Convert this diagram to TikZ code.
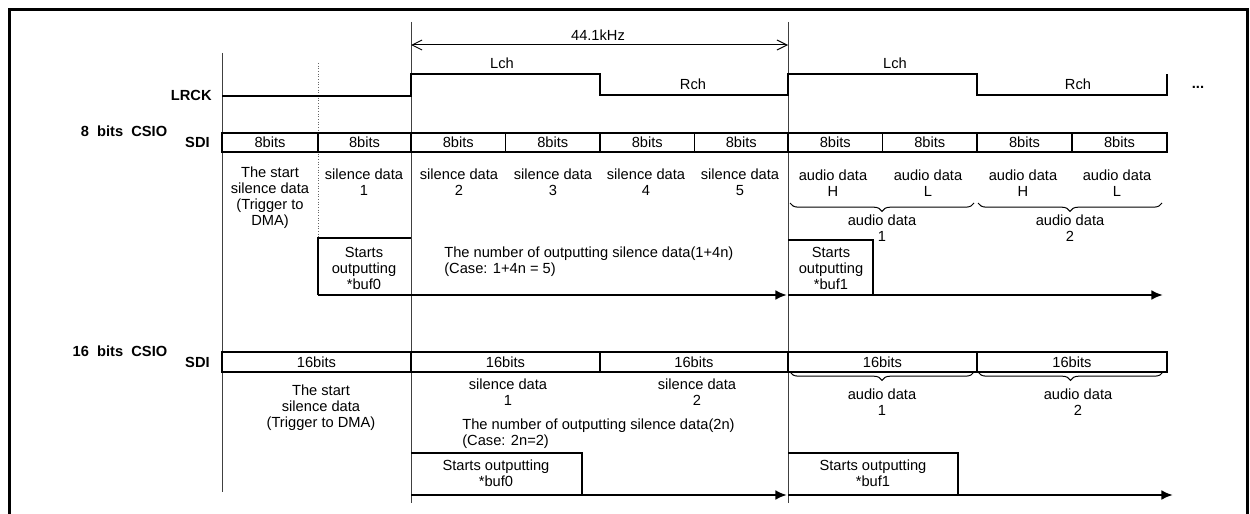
\documentclass[tikz,border=0pt]{standalone}
\usepackage{fontspec}
\setmainfont{Liberation Sans}
\usetikzlibrary{arrows.meta,decorations.pathreplacing}
\begin{document}
\begin{tikzpicture}[x=0.6pt,y=-0.6pt,
  txt/.style={font=\fontsize{8.8}{9.6}\selectfont, align=center, inner sep=0pt},
  lbl/.style={font=\fontsize{8.8}{9.6}\selectfont\bfseries, inner sep=0pt},
  guide/.style={line width=0.6pt, black!75},
  dots/.style={line width=0.6pt, black!60, densely dotted},
  sig/.style={line width=1.2pt},
  bus/.style={line width=1.1pt},
  thinbox/.style={line width=0.7pt},
  flow/.style={line width=1.6pt, -{Latex[length=7pt,width=6pt]}},
  dimarrow/.style={line width=0.6pt, {Straight Barb[length=6pt,width=6pt]}-{Straight Barb[length=6pt,width=6pt]}},
  brc/.style={decorate, decoration={brace,mirror,amplitude=5pt}, line width=0.6pt},
]
\useasboundingbox (0,0) rectangle (1250,514);
% frame
\draw[line width=1.8pt] (9,520) -- (9,10) -- (1247,10) -- (1247,520);

% guide lines
\draw[guide] (222,53) -- (222,492);
\draw[dots] (318,63) -- (318,238);
\draw[guide] (411,22) -- (411,503);
\draw[guide] (788,22) -- (788,503);

% 44.1 kHz
\coordinate (fa) at (411,45);
\coordinate (fb) at (788,45);
\draw[dimarrow] (fa) -- (fb);
\node[txt] (freq) at (598,35) {44.1kHz};

% LRCK
\node[lbl, anchor=east] (lrck) at (212,95) {LRCK};
\draw[sig] (222,96) -- (411,96) -- (411,74) -- (600,74) -- (600,95) -- (788,95)
  -- (788,74) -- (977,74) -- (977,95) -- (1167,95) -- (1167,74);
\node[txt] (lch1) at (502,63) {Lch};
\node[txt] (rch1) at (693,84) {Rch};
\node[txt] (lch2) at (895,63) {Lch};
\node[txt] (rch2) at (1078,84) {Rch};
\node[lbl] (more) at (1198,87) {...};

% 8 bits CSIO
\node[lbl] (csio8) at (124,131) {8\ \ bits\ \ CSIO};
\node[lbl, anchor=east] (sdi8) at (210,142) {SDI};
\draw[bus] (222,133) rectangle (1167,152);
\foreach \x in {318,411,505.5,600,694.5,788,882.5,977,1072}
  \draw[bus] (\x,133) -- (\x,152);
\foreach \a/\b [count=\i] in {222/318,318/411,411/505.5,505.5/600,600/694.5,694.5/788,788/882.5,882.5/977,977/1072,1072/1167}
  \node[txt] (e\i) at ({(\a+\b)/2},142.5) {8bits};

\node[txt] (start8) at (270,198) {The start\\silence data\\(Trigger to\\DMA)};
\node[txt] (s1) at (364,182) {silence data\\1};
\node[txt] (s2) at (459,182) {silence data\\2};
\node[txt] (s3) at (553,182) {silence data\\3};
\node[txt] (s4) at (646,182) {silence data\\4};
\node[txt] (s5) at (740,182) {silence data\\5};
\node[txt] (a1h) at (833,183) {audio data\\H};
\node[txt] (a1l) at (928,183) {audio data\\L};
\node[txt] (a2h) at (1023,183) {audio data\\H};
\node[txt] (a2l) at (1117,183) {audio data\\L};

\draw[brc] (790,203) -- (974,203);
\draw[brc] (978,203) -- (1162,203);
\node[txt] (ad81) at (882,228) {audio data\\1};
\node[txt] (ad82) at (1070,228) {audio data\\2};

\draw[thinbox] (318,295) -- (318,238) -- (411,238);
\node[txt] (buf08) at (364,268) {Starts\\outputting\\*buf0};
\draw[thinbox] (788,240) -- (873,240) -- (873,295);
\node[txt] (buf18) at (831,268) {Starts\\outputting\\*buf1};
\node[txt, align=left, anchor=west] (num8) at (444,262) {The number of outputting silence data(1+4n)\\(Case: 1+4n = 5)};

\coordinate (p8a) at (318,295);
\coordinate (p8b) at (787,295);
\coordinate (p8c) at (788,295);
\coordinate (p8d) at (1163,295);
\draw[flow] (p8a) -- (p8b);
\draw[flow] (p8c) -- (p8d);

% 16 bits CSIO
\node[lbl] (csio16) at (120,351) {16\ \ bits\ \ CSIO};
\node[lbl, anchor=east] (sdi16) at (210,362) {SDI};
\draw[bus] (222,352) rectangle (1167,372);
\foreach \x in {411,600,788,977}
  \draw[bus] (\x,352) -- (\x,372);
\foreach \a/\b [count=\i] in {222/411,411/600,600/788,788/977,977/1167}
  \node[txt] (w\i) at ({(\a+\b)/2},362) {16bits};

\node[txt] (start16) at (321,408) {The start\\silence data\\(Trigger to DMA)};
\node[txt] (sd1) at (508,392) {silence data\\1};
\node[txt] (sd2) at (697,392) {silence data\\2};
\draw[brc] (790,372) -- (974,372);
\draw[brc] (978,372) -- (1163,372);
\node[txt] (ad161) at (882,402) {audio data\\1};
\node[txt] (ad162) at (1078,402) {audio data\\2};
\node[txt, align=left, anchor=west] (num16) at (462,434) {The number of outputting silence data(2n)\\(Case: 2n=2)};

\draw[thinbox] (411,453) -- (582,453) -- (582,495);
\node[txt] (buf016) at (496,473) {Starts outputting\\*buf0};
\draw[thinbox] (788,453) -- (958,453) -- (958,495);
\node[txt] (buf116) at (873,473) {Starts outputting\\*buf1};

\coordinate (p16a) at (411,495);
\coordinate (p16b) at (787,495);
\coordinate (p16c) at (788,495);
\coordinate (p16d) at (1173,495);
\draw[flow] (p16a) -- (p16b);
\draw[flow] (p16c) -- (p16d);
\end{tikzpicture}
\end{document}
